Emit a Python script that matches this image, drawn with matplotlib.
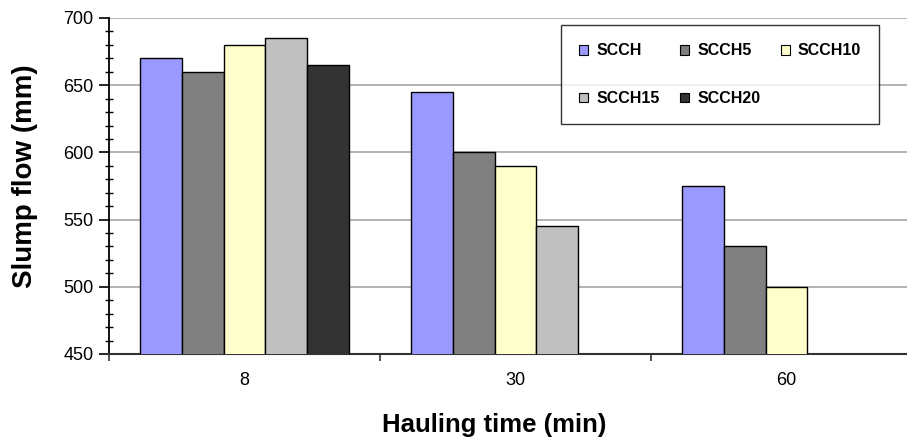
import matplotlib.pyplot as plt
import numpy as np
from matplotlib.ticker import MultipleLocator, FixedLocator

plt.rcParams['font.family'] = ['Liberation Sans', 'DejaVu Sans']

# Slump flow after each hauling time, one list per mix (None = not measured)
hauling_times = ['8', '30', '60']
mixes = ['SCCH', 'SCCH5', 'SCCH10', 'SCCH15', 'SCCH20']
scch = [670, 645, 575]
scch5 = [660, 600, 530]
scch10 = [680, 590, 500]
scch15 = [685, 545, None]
scch20 = [665, None, None]

series = [scch, scch5, scch10, scch15, scch20]
colors = ['#9999FF', '#808080', '#FFFFCC', '#C0C0C0', '#333333']

fig = plt.figure(figsize=(9.07, 4.4), dpi=100)
ax = fig.add_axes([109 / 907, 86 / 440, 813 / 907, 336 / 440])

x = np.arange(len(hauling_times))
width = 1 / 6.5
handles = []
for i, (vals, color, name) in enumerate(zip(series, colors, mixes)):
    xs = [xi + (i - 2) * width for xi, v in zip(x, vals) if v is not None]
    ys = [v for v in vals if v is not None]
    h = ax.bar(xs, ys, width, color=color, edgecolor='black', linewidth=1.0,
               label=name, zorder=3)
    handles.append(h)

ax.set_xlim(-0.5, 2.5)
ax.set_ylim(450, 700)
ax.yaxis.set_major_locator(MultipleLocator(50))
ax.yaxis.set_minor_locator(MultipleLocator(10))
ax.grid(axis='y', which='major', color='#a6a6a6', linewidth=1.2, zorder=0)

ax.set_xticks(x)
ax.set_xticklabels(hauling_times)
ax.xaxis.set_minor_locator(FixedLocator([-0.5, 0.5, 1.5]))
ax.tick_params(axis='x', which='major', length=0, pad=13, labelsize=13)
ax.tick_params(axis='x', which='minor', length=5, width=1.2, color='#333333')
ax.tick_params(axis='y', which='major', direction='out', length=7, width=1.2,
               labelsize=13, pad=4)
ax.tick_params(axis='y', which='minor', direction='inout', length=6, width=1.0)

for side in ['top', 'right']:
    ax.spines[side].set_visible(False)
ax.spines['left'].set_linewidth(1.3)
ax.spines['bottom'].set_linewidth(1.5)
ax.spines['bottom'].set_color('#333333')

fig.text(25 / 907, 1 - 176 / 440, 'Slump flow (mm)', rotation=90,
         ha='center', va='center', fontsize=20, fontweight='bold')
fig.text(494 / 907, 1 - 425 / 440, 'Hauling time (min)',
         ha='center', va='center', fontsize=18.5, fontweight='bold')

# row-wise legend order with column-major filling
order = [0, 3, 1, 4, 2]
leg = fig.legend([handles[k] for k in order], [mixes[k] for k in order],
                 ncol=3, loc='upper left',
                 bbox_to_anchor=(561 / 907, 1 - 25 / 440),
                 frameon=True, fancybox=False, edgecolor='black',
                 handlelength=0.55, handleheight=0.55, handletextpad=0.5,
                 columnspacing=1.3, labelspacing=2.05, borderpad=1.15,
                 borderaxespad=0,
                 prop={'size': 11.5, 'weight': 'bold'})
leg.get_frame().set_linewidth(1.0)
for patch in leg.get_patches():
    patch.set_linewidth(0.8)

fig.savefig('out.png', dpi=100)
